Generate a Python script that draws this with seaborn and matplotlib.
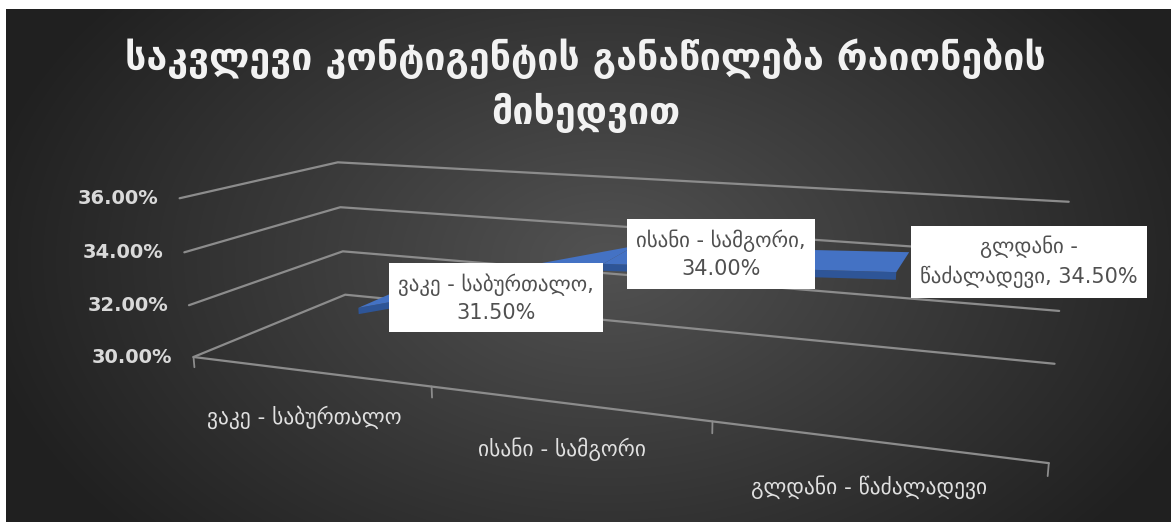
import textwrap
import numpy as np
import matplotlib
matplotlib.use("Agg")
import matplotlib.pyplot as plt
import seaborn as sns
from mpl_toolkits.mplot3d import proj3d
from mpl_toolkits.mplot3d.art3d import Poly3DCollection

sns.set_theme(style="dark")
plt.rcParams['font.family'] = ['DejaVu Sans']

categories = ["ვაკე - საბურთალო", "ისანი - სამგორი", "გლდანი - წაძალადევი"]
values = [31.5, 34.0, 34.5]
value_ticks = [30, 32, 34, 36]
title = "საკვლევი კონტიგენტის განაწილება რაიონების\nმიხედვით"

W, H = 1171, 522
fig = plt.figure(figsize=(W / 100, H / 100), dpi=100, facecolor="white")

# dark radial-gradient chart area
bg = fig.add_axes([6 / W, 0, 1 - 6 / W, (H - 9) / H])
bg.set_axis_off()
yy, xx = np.mgrid[0:513, 0:1165]
r = np.sqrt(((xx - 600) / 640.0) ** 2 + ((yy - 250) / 420.0) ** 2)
r = np.clip(r, 0, 1)
c0 = np.array([0x52, 0x52, 0x52]) / 255
c1 = np.array([0x20, 0x20, 0x20]) / 255
img = c0[None, None, :] * (1 - r[..., None]) + c1[None, None, :] * r[..., None]
bg.imshow(img, aspect="auto", extent=(0, 1, 0, 1), interpolation="bilinear")
bg.set_xlim(0, 1); bg.set_ylim(0, 1)

# 3D perspective axes: categories along x, series depth along y, values along z
S = 1400
cx, cy = 600.49, 221.62
ax = fig.add_axes([(cx - S / 2) / W, (cy - S / 2) / H, S / W, S / H], projection="3d")
ax.set_xlim(0, 3); ax.set_ylim(0, 1); ax.set_zlim(30, 36)
ax.set_axis_off()
ax.set_facecolor("none")
ax.patch.set_alpha(0)
ax.view_init(elev=13.46, azim=-69.63, roll=0.062)
ax.set_proj_type("persp", focal_length=0.1581)
ax.set_box_aspect((1, 0.3374, 0.1988), zoom=0.6175)

# side wall + back wall gridlines, floor front edge with category ticks
gcol = "#8c8c8c"
for t in value_ticks:
    ax.plot([0, 0, 3], [0, 1, 1], [t, t, t], color=gcol, lw=1.6, zorder=1)
ax.plot([0, 3], [0, 0], [30, 30], color=gcol, lw=1.6, zorder=1)
for k in range(4):
    ax.plot([k, k], [0, 0], [30, 29.6], color=gcol, lw=1.3, zorder=1)

# 3D ribbon line
xc = np.arange(len(values)) + 0.5
w = 0.32
y0, y1 = 0.5 - w / 2, 0.5 + w / 2
top, front = [], []
for i in range(len(values) - 1):
    a, b = xc[i], xc[i + 1]
    va, vb = values[i], values[i + 1]
    top.append([(a, y0, va), (b, y0, vb), (b, y1, vb), (a, y1, va)])
    front.append([(a, y0, va), (b, y0, vb), (b, y0, vb - 0.25), (a, y0, va - 0.25)])
ax.add_collection3d(Poly3DCollection(front, facecolor="#2e5597", edgecolor="none"))
ax.add_collection3d(Poly3DCollection(top, facecolor="#4472c4", edgecolor="none"))

M = ax.get_proj()
def p2(x_, y_, z_):
    a_, b_, _ = proj3d.proj_transform(np.array([x_]), np.array([y_]), np.array([z_]), M)
    return float(a_[0]), float(b_[0])

for t in value_ticks:
    ax.annotate(f"{t:.2f}%", xy=p2(0, 0, t), xytext=(-21, 0), textcoords="offset pixels",
                ha="right", va="center", fontsize=14, fontweight="bold", color="#d9d9d9",
                zorder=20, annotation_clip=False)
for i, cat in enumerate(categories):
    ax.annotate(cat, xy=p2(xc[i], 0, 30), xytext=(-4, -46), textcoords="offset pixels",
                ha="center", va="center", fontsize=15.5, color="#e0e0e0", zorder=20,
                annotation_clip=False)

for i, (cat, val) in enumerate(zip(categories, values)):
    lab = "\n".join(textwrap.wrap(f"{cat}, {val:.2f}%", 18))
    ax.annotate(lab, xy=p2(xc[i], 0.5, val), xytext=(17, 0), textcoords="offset pixels",
                ha="left", va="center", fontsize=15, color="#505050", zorder=20,
                multialignment="center", linespacing=1.45, annotation_clip=False,
                bbox=dict(boxstyle="square,pad=0.45", fc="white", ec="none"))

fig.text(0.5, 1 - 86 / H, title, ha="center", va="center", fontsize=27, fontweight="bold",
         color="#f2f2f2", linespacing=1.45)

fig.savefig("out.png", dpi=100, facecolor="white")
